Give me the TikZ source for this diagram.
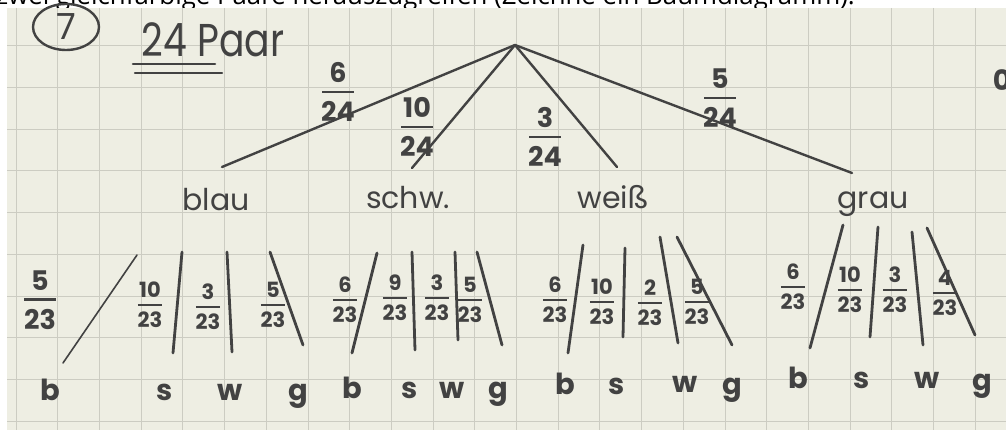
\documentclass[tikz,border=0pt]{standalone}
\usepackage{fontspec}
\usetikzlibrary{shapes.geometric}
\setmainfont{Poppins}
\newfontfamily\printfont{Open Sans}
\definecolor{paper}{RGB}{238,238,227}
\definecolor{gridc}{RGB}{204,204,194}
\definecolor{ink}{RGB}{66,66,66}
\newcommand{\fr}[3][1.15em]{\vbox{\offinterlineskip\halign{\hfil##\hfil\cr
  #2\cr\noalign{\kern0.3em}
  \vrule width #1 height 0.09em\cr\noalign{\kern0.3em}
  #3\cr}}}
\begin{document}
\begin{tikzpicture}[x=1pt,y=-1pt,
  hand/.style={text=ink, inner sep=0pt},
  frA/.style={hand, font=\fontsize{27}{27}\bfseries},
  frB/.style={hand, font=\fontsize{21}{21}\bfseries},
  word/.style={hand, font=\fontsize{30}{30}\selectfont},
  leaf/.style={hand, font=\fontsize{29}{29}\bfseries, anchor=base},
  branch/.style={draw=ink, line width=2.4pt, line cap=round},
  twig/.style={draw=ink, line width=2.8pt, line cap=round},
  thintwig/.style={draw=ink, line width=1.6pt, line cap=round},
  gridline/.style={draw=gridc, line width=0.8pt}]
\useasboundingbox (0,0) rectangle (1006,430);
\fill[white] (0,0) rectangle (1006,430);
\node[anchor=base west, inner sep=0pt, font=\printfont\fontsize{25.8}{25.8}\selectfont] (task) at (-4,5)
  {zwei gleichfarbige Paare herauszugreifen (Zeichne ein Baumdiagramm).};
\fill[paper] (7,8) rectangle (1006,430);
\foreach \i in {0,...,23} \draw[gridline] ({16+41.7*\i},8) -- ({16+41.7*\i},430);
\foreach \j in {1,...,10} \draw[gridline] (7,{4+41.7*\j}) -- (1006,{4+41.7*\j});

% header
\node[ellipse, draw=ink, line width=2.4pt, minimum width=66pt, minimum height=46pt, hand,
  font=\fontsize{36}{36}\selectfont] (num) at (66,27) {7};
\node[hand, font=\fontsize{46}{46}\selectfont] (title) at (213,40) {\scalebox{0.82}[1]{24 Paar}};
\draw[ink, line width=2.6pt, line cap=round] (133,64) -- (215,64);
\draw[ink, line width=2.2pt, line cap=round] (135,73) -- (222,73);
\node[hand, font=\fontsize{28}{28}\bfseries] (zero) at (1002,80) {0};

% level 1
\coordinate (root) at (515,45);
\coordinate (eB) at (222,167);
\coordinate (eS) at (412,168);
\coordinate (eW) at (617,167);
\coordinate (eG) at (852,173);
\draw[branch] (root) -- (eB);
\draw[branch] (root) -- (eS);
\draw[branch] (root) -- (eW);
\draw[branch] (root) -- (eG);
\node[frA] (p1) at (338,92) {\fr{6}{24}};
\node[frA] (p2) at (417,127) {\fr{10}{24}};
\node[frA] (p3) at (545,137) {\fr{3}{24}};
\node[frA] (p4) at (720,98) {\fr{5}{24}};
\node[word] (blau) at (216,200) {blau};
\node[word] (schw) at (408,198) {schw.};
\node[word] (weiss) at (613,197) {weiß};
\node[word] (grau) at (873,204) {grau};

% level 2: blau
\coordinate (a1t) at (137,255); \coordinate (a1b) at (63,363);
\coordinate (a2t) at (182,252); \coordinate (a2b) at (173,353);
\coordinate (a3t) at (227,252); \coordinate (a3b) at (232,352);
\coordinate (a4t) at (270,252); \coordinate (a4b) at (303,345);
\draw[thintwig] (a1t) -- (a1b);
\draw[twig] (a2t) -- (a2b);
\draw[twig] (a3t) -- (a3b);
\draw[twig] (a4t) -- (a4b);
\node[frA] (fa1) at (40,300) {\fr{5}{23}};
\node[frB] (fa2) at (150,305) {\fr{10}{23}};
\node[frB] (fa3) at (208,307) {\fr{3}{23}};
\node[frB] (fa4) at (273,305) {\fr{5}{23}};
% schw
\coordinate (b1t) at (377,253); \coordinate (b1b) at (352,353);
\coordinate (b2t) at (412,252); \coordinate (b2b) at (415,350);
\coordinate (b3t) at (455,252); \coordinate (b3b) at (458,340);
\coordinate (b4t) at (477,252); \coordinate (b4b) at (502,345);
\draw[twig] (b1t) -- (b1b);
\draw[twig] (b2t) -- (b2b);
\draw[twig] (b3t) -- (b3b);
\draw[twig] (b4t) -- (b4b);
\node[frB] (fb1) at (345,300) {\fr{6}{23}};
\node[frB] (fb2) at (395,298) {\fr{9}{23}};
\node[frB] (fb3) at (437,298) {\fr{3}{23}};
\node[frB] (fb4) at (470,300) {\fr{5}{23}};
% weiss
\coordinate (c1t) at (583,245); \coordinate (c1b) at (568,353);
\coordinate (c2t) at (625,248); \coordinate (c2b) at (623,337);
\coordinate (c3t) at (660,237); \coordinate (c3b) at (678,343);
\coordinate (c4t) at (677,237); \coordinate (c4b) at (732,345);
\draw[twig] (c1t) -- (c1b);
\draw[twig] (c2t) -- (c2b);
\draw[twig] (c3t) -- (c3b);
\draw[twig] (c4t) -- (c4b);
\node[frB] (fc1) at (555,300) {\fr{6}{23}};
\node[frB] (fc2) at (602,302) {\fr{10}{23}};
\node[frB] (fc3) at (650,303) {\fr{2}{23}};
\node[frB] (fc4) at (697,302) {\fr{5}{23}};
% grau
\coordinate (d1t) at (843,225); \coordinate (d1b) at (810,348);
\coordinate (d2t) at (878,227); \coordinate (d2b) at (870,337);
\coordinate (d3t) at (912,232); \coordinate (d3b) at (923,345);
\coordinate (d4t) at (927,228); \coordinate (d4b) at (975,335);
\draw[twig] (d1t) -- (d1b);
\draw[twig] (d2t) -- (d2b);
\draw[twig] (d3t) -- (d3b);
\draw[twig] (d4t) -- (d4b);
\node[frB] (fd1) at (793,287) {\fr{6}{23}};
\node[frB] (fd2) at (850,290) {\fr{10}{23}};
\node[frB] (fd3) at (895,290) {\fr{3}{23}};
\node[frB] (fd4) at (945,293) {\fr{4}{23}};

% leaves
\node[leaf] (lab) at (50,400) {b};
\node[leaf] (las) at (165,400) {s};
\node[leaf] (law) at (230,400) {w};
\node[leaf] (lag) at (298,400) {g};
\node[leaf] (lbb) at (352,398) {b};
\node[leaf] (lbs) at (410,398) {s};
\node[leaf] (lbw) at (452,398) {w};
\node[leaf] (lbg) at (498,398) {g};
\node[leaf] (lcb) at (565,394) {b};
\node[leaf] (lcs) at (617,394) {s};
\node[leaf] (lcw) at (685,392) {w};
\node[leaf] (lcg) at (732,394) {g};
\node[leaf] (ldb) at (798,388) {b};
\node[leaf] (lds) at (862,388) {s};
\node[leaf] (ldw) at (927,388) {w};
\node[leaf] (ldg) at (982,390) {g};
\end{tikzpicture}
\end{document}
